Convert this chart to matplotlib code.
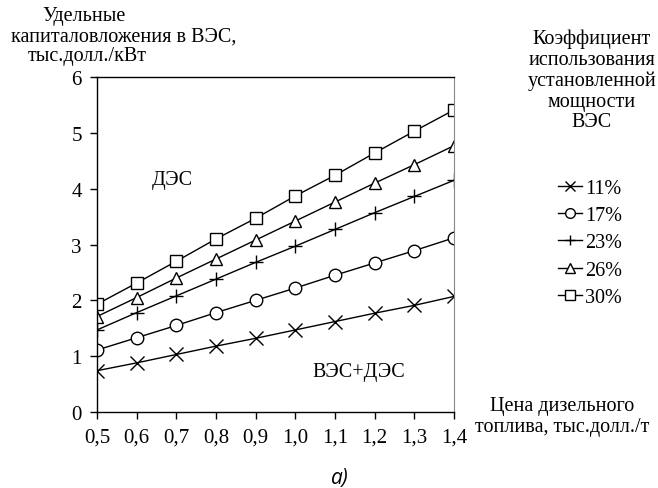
import matplotlib.pyplot as plt

# Data
price = [0.5, 0.6, 0.7, 0.8, 0.9, 1.0, 1.1, 1.2, 1.3, 1.4]
cf_11 = [0.74, 0.88, 1.03, 1.18, 1.32, 1.47, 1.62, 1.77, 1.91, 2.07]
cf_17 = [1.11, 1.33, 1.55, 1.78, 2.00, 2.22, 2.45, 2.67, 2.89, 3.12]
cf_23 = [1.47, 1.78, 2.08, 2.38, 2.68, 2.97, 3.27, 3.57, 3.86, 4.15]
cf_26 = [1.71, 2.05, 2.40, 2.74, 3.08, 3.42, 3.76, 4.10, 4.43, 4.77]
cf_30 = [1.93, 2.31, 2.70, 3.10, 3.47, 3.87, 4.24, 4.64, 5.03, 5.41]

series_labels = ["11%", "17%", "23%", "26%", "30%"]
markers = ["x", "o", "+", "^", "s"]
x_ticks = [0.5, 0.6, 0.7, 0.8, 0.9, 1.0, 1.1, 1.2, 1.3, 1.4]
x_tick_labels = ["0,5", "0,6", "0,7", "0,8", "0,9", "1,0", "1,1", "1,2", "1,3", "1,4"]
y_ticks = [0, 1, 2, 3, 4, 5, 6]

plt.rcParams['font.family'] = ['Liberation Serif', 'DejaVu Serif']

fig = plt.figure(figsize=(6.58, 4.89), dpi=100)
ax = fig.add_axes([0.1474, 0.1554, 0.5426, 0.6851])

all_series = [cf_11, cf_17, cf_23, cf_26, cf_30]
for vals, lab, m in zip(all_series, series_labels, markers):
    if m in ("x", "+"):
        ax.plot(price, vals, color='black', lw=1.0, marker=m, ms=10,
                mew=1.0, label=lab)
    else:
        ax.plot(price, vals, color='black', lw=1.0, marker=m, ms=9,
                mfc='white', mew=1.0, label=lab)

ax.set_xlim(0.5, 1.4)
ax.set_ylim(0, 6)
ax.set_xticks(x_ticks)
ax.set_xticklabels(x_tick_labels)
ax.set_yticks(y_ticks)
ax.tick_params(labelsize=15, length=5, width=1, direction='out', pad=6)
ax.spines['right'].set_color('#888888')
for s in ['left', 'bottom', 'top']:
    ax.spines[s].set_linewidth(1.0)

# Region labels
ax.text(0.69, 4.17, "ДЭС", fontsize=14.5, ha='center', va='center')
ax.text(1.16, 0.73, "ВЭС+ДЭС", fontsize=14.5, ha='center', va='center')

# Y axis title
fig.text(84 / 658, 1 - 17 / 489, "Удельные", fontsize=14.5, ha='center', va='center')
fig.text(124 / 658, 1 - 37 / 489, "капиталовложения в ВЭС,", fontsize=14.5, ha='center', va='center')
fig.text(87 / 658, 1 - 56 / 489, "тыс.долл./кВт", fontsize=14.5, ha='center', va='center')

# X axis title
fig.text(562 / 658, 1 - 407 / 489, "Цена дизельного", fontsize=14.5, ha='center', va='center')
fig.text(562 / 658, 1 - 428 / 489, "топлива, тыс.долл./т", fontsize=14.5, ha='center', va='center')

# Legend title
fig.text(592 / 658, 1 - 81 / 489, "Коэффициент\nиспользования\nустановленной\nмощности\nВЭС",
         fontsize=14.5, ha='center', va='center', linespacing=1.12)

leg = fig.legend(loc='upper left', bbox_to_anchor=(550 / 658, 1 - 172 / 489),
                 frameon=False, fontsize=14.5, handlelength=1.2, handletextpad=0.15,
                 labelspacing=0.4, borderaxespad=0)
for h in leg.legend_handles:
    h.set_markersize(7)

# Sub-figure label
fig.text(340 / 658, 1 - 479 / 489, "а)", fontsize=15, ha='center', va='center',
         family='Open Sans', style='italic')

fig.savefig("out.png", dpi=100)
